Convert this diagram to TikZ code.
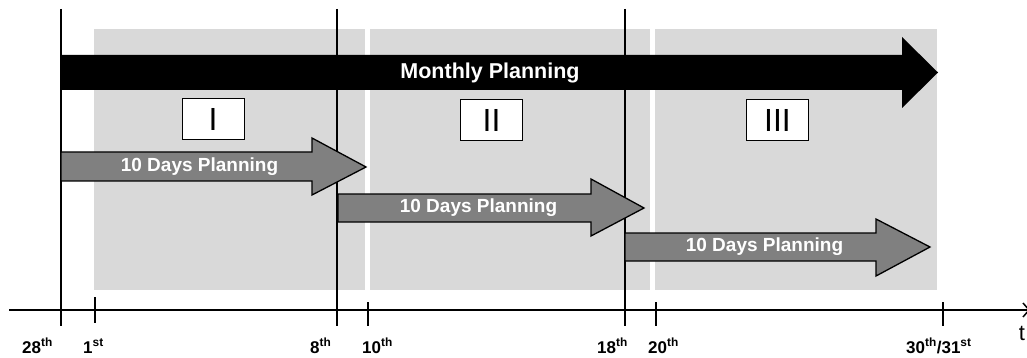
\documentclass[tikz,border=0pt]{standalone}
\usepackage{fontspec}
\setmainfont{Liberation Sans}
\usetikzlibrary{arrows.meta}
\definecolor{panelgray}{HTML}{D9D9D9}
\definecolor{arrowgray}{HTML}{808080}
\newcommand\daylabel[2]{#1\textsuperscript{#2}}
\begin{document}
\begin{tikzpicture}[x=1pt,y=-1pt,
  panel/.style={fill=panelgray},
  guide/.style={line width=1.5pt},
  tickline/.style={line width=1.5pt},
  timeaxis/.style={line width=2pt},
  dayarrow/.style={fill=arrowgray, draw=black, line width=1.3pt, line join=miter},
  daytext/.style={text=white, inner sep=0, font=\bfseries\fontsize{19}{22}\selectfont},
  roman/.style={draw=black, fill=white, line width=1pt, minimum width=62pt,
    minimum height=41pt, inner sep=0, font=\fontsize{32}{36}\selectfont},
  datelbl/.style={anchor=base west, inner sep=0, font=\bfseries\fontsize{17}{20}\selectfont},
]
\useasboundingbox (0,0) rectangle (1027,358);

% ten-day periods
\fill[panel] (94,29) rectangle (365,290);
\fill[panel] (370,29) rectangle (650,290);
\fill[panel] (655,29) rectangle (937,290);

% time axis
\coordinate (axstart) at (9,310);
\coordinate (axend) at (1030,310);
\draw[timeaxis,-{Straight Barb[length=6pt,width=14pt,line width=1.5pt]}] (axstart) -- (axend);

% period boundaries and ticks
\coordinate (g1t) at (61,9);   \coordinate (g1b) at (61,326);
\coordinate (g2t) at (337,9);  \coordinate (g2b) at (337,326);
\coordinate (g3t) at (625,9);  \coordinate (g3b) at (625,326);
\draw[guide] (g1t) -- (g1b);
\draw[guide] (g2t) -- (g2b);
\draw[guide] (g3t) -- (g3b);
\coordinate (t1t) at (95,297);  \coordinate (t1b) at (95,323);
\coordinate (t2t) at (368,302); \coordinate (t2b) at (368,326);
\coordinate (t3t) at (656,302); \coordinate (t3b) at (656,326);
\coordinate (t4t) at (943,302); \coordinate (t4b) at (943,326);
\draw[tickline] (t1t) -- (t1b);
\draw[tickline] (t2t) -- (t2b);
\draw[tickline] (t3t) -- (t3b);
\draw[tickline] (t4t) -- (t4b);

% monthly planning arrow
\fill (61,55) -- (902,55) -- (902,37) -- (938,72.5) -- (902,108) -- (902,90) -- (61,90) -- cycle;
\node[text=white, inner sep=0, font=\bfseries\fontsize{21.5}{24}\selectfont] (monthly) at (490,72.5) {Monthly Planning};

% period numbers
\node[roman] (p1) at (213,119.5) {I};
\node[roman] (p2) at (491.5,120) {II};
\node[roman] (p3) at (777.5,120) {III};

% ten-day planning arrows
\draw[dayarrow] (61,152) -- (312,152) -- (312,138) -- (366,167) -- (312,195) -- (312,181) -- (61,181) -- cycle;
\node[daytext] (d1) at (199.5,167) {10 Days Planning};
\draw[dayarrow] (338,194) -- (591,194) -- (591,179) -- (644,208) -- (591,236) -- (591,222) -- (338,222) -- cycle;
\node[daytext] (d2) at (478.5,208) {10 Days Planning};
\draw[dayarrow] (625,233) -- (876,233) -- (876,219) -- (930,247) -- (876,276) -- (876,261) -- (625,261) -- cycle;
\node[daytext] (d3) at (764.5,247) {10 Days Planning};

% dates
\node[datelbl] (l28) at (22,353) {\daylabel{28}{th}};
\node[datelbl] (l1)  at (83,353) {\daylabel{1}{st}};
\node[datelbl] (l8)  at (310,353) {\daylabel{8}{th}};
\node[datelbl] (l10) at (362,353) {\daylabel{10}{th}};
\node[datelbl] (l18) at (597,353) {\daylabel{18}{th}};
\node[datelbl] (l20) at (648,353) {\daylabel{20}{th}};
\node[datelbl] (l30) at (906,353) {\daylabel{30}{th}/\daylabel{31}{st}};
\node[inner sep=0, font=\fontsize{22}{24}\selectfont] (tlabel) at (1022,333) {t};
\end{tikzpicture}
\end{document}
